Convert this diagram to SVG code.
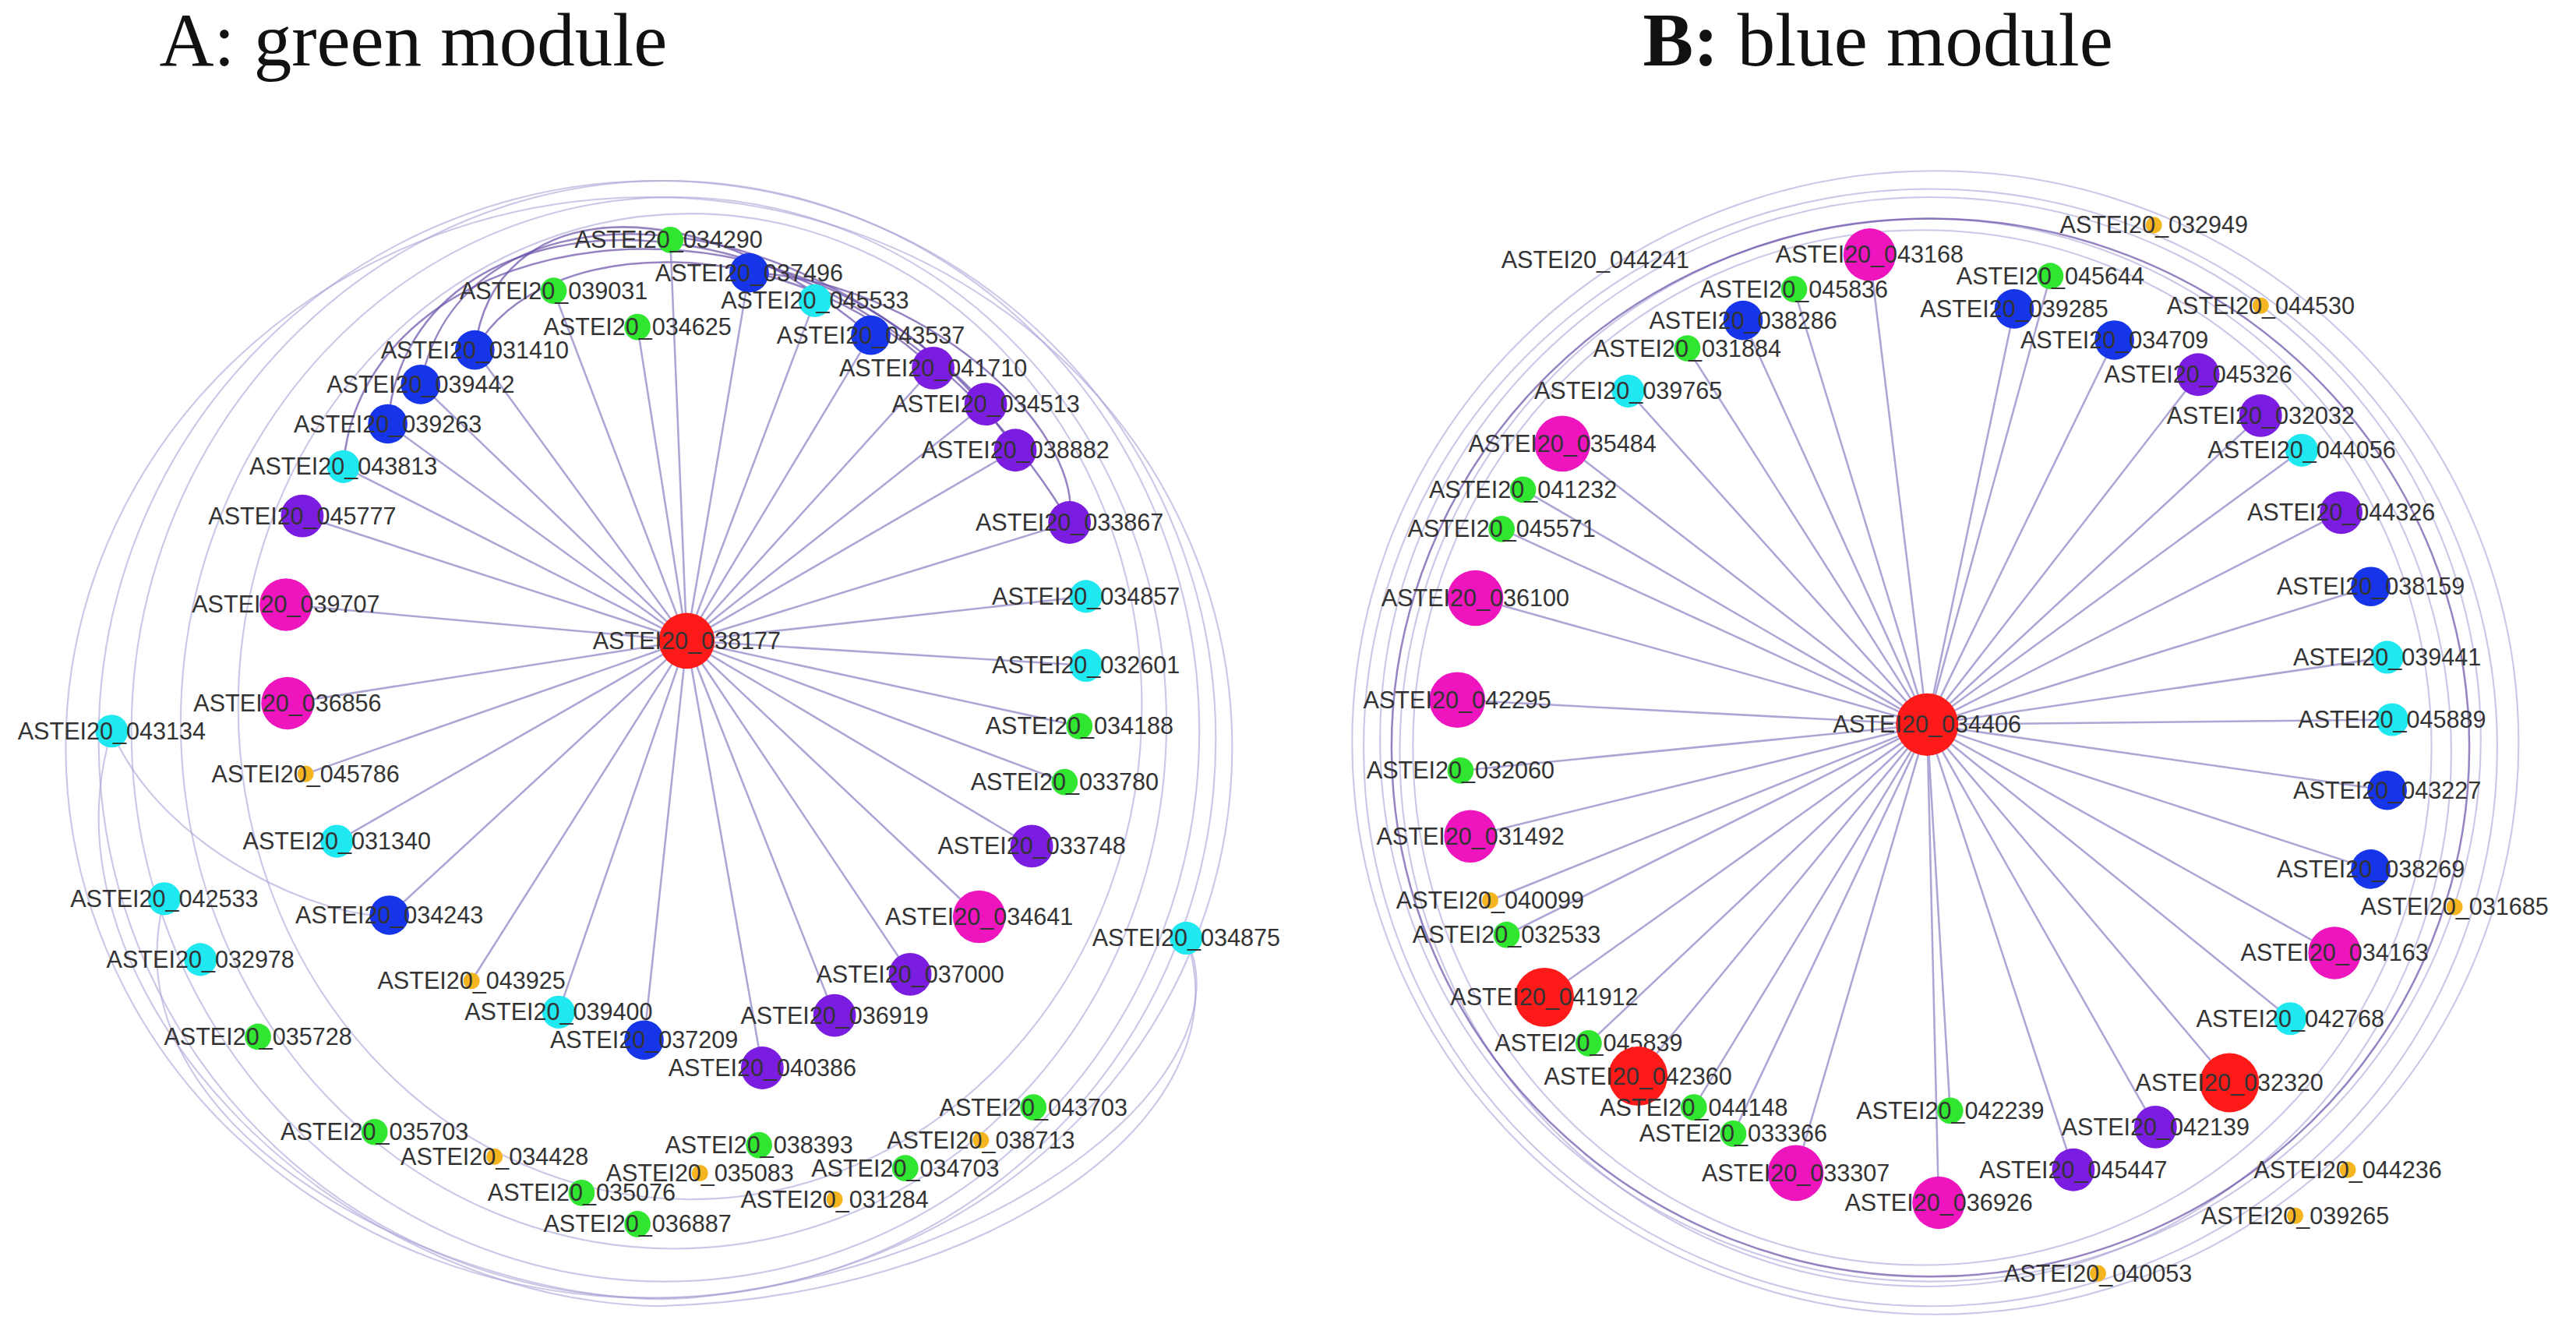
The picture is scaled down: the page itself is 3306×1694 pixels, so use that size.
<svg xmlns="http://www.w3.org/2000/svg" width="3306" height="1694" viewBox="0 0 3306 1694">
<style>
.t{font-family:"Liberation Sans",Arial,sans-serif;font-size:14.5px;fill:#333;text-anchor:middle}
.h{font-family:"Liberation Serif","DejaVu Serif",serif;font-size:46px;fill:#111}
.sp{stroke:#8a80c4;stroke-width:1.2;opacity:.7}
.rg{fill:none;stroke:#a9a2d6;stroke-width:1;opacity:.6}
.dk{fill:none;stroke:#6a50a8;stroke-width:1.2;opacity:.7}
.r{fill:#ff1a1a}.m{fill:#ee14be}.p{fill:#7a1de0}.b{fill:#1634e8}.c{fill:#1fe8f0}.g{fill:#30e630}.o{fill:#f5b520}
</style>
<rect width="3306" height="1694" fill="#fff"/>
<g transform="scale(2.1085)">
<text class="h" x="97" y="40">A: green module</text>
<text class="h" x="1000" y="40"><tspan font-weight="bold">B:</tspan> blue module</text>
<g id="connectors">
<ellipse class="rg" cx="400" cy="450" rx="340" ry="340"/>
<ellipse class="rg" cx="405" cy="445" rx="325" ry="335"/>
<ellipse class="rg" cx="410" cy="440" rx="300" ry="320"/>
<ellipse class="rg" cx="395" cy="455" rx="355" ry="335"/>
<ellipse class="rg" cx="420" cy="430" rx="275" ry="300"/>
<path class="rg" d="M68 445 C20 600 200 790 400 795 C600 790 760 680 722 571"/>
<path class="rg" d="M100 547 C60 700 300 800 420 790 C620 770 760 650 722 571"/>
<path class="rg" d="M68 445 C100 520 200 560 237 557"/>
<path class="dk" d="M289 213 C300 120 420 110 530 204"/>
<path class="dk" d="M256 234 C280 110 470 110 600 246"/>
<path class="dk" d="M236 258 C250 100 520 100 651 318"/>
<path class="dk" d="M289 213 C330 140 480 140 568 224"/>
<path class="dk" d="M456 166 C560 170 660 260 651 318"/>
<path class="dk" d="M209 284 C220 130 500 90 618 274"/>
<ellipse class="rg" cx="1175" cy="455" rx="345" ry="340"/>
<ellipse class="rg" cx="1175" cy="450" rx="335" ry="330"/>
<ellipse class="rg" cx="1172" cy="458" rx="320" ry="325"/>
<ellipse class="rg" cx="1178" cy="452" rx="355" ry="348"/>
<ellipse class="rg" cx="1170" cy="455" rx="310" ry="315"/>
<ellipse class="dk" cx="1175" cy="455" rx="328" ry="322" opacity=".4"/>
<g class="sp">
<line x1="418" y1="390" x2="408" y2="146"/><line x1="418" y1="390" x2="456" y2="166"/><line x1="418" y1="390" x2="337" y2="177"/><line x1="418" y1="390" x2="496" y2="183"/><line x1="418" y1="390" x2="388" y2="199"/><line x1="418" y1="390" x2="530" y2="204"/><line x1="418" y1="390" x2="289" y2="213"/><line x1="418" y1="390" x2="568" y2="224"/><line x1="418" y1="390" x2="256" y2="234"/><line x1="418" y1="390" x2="600" y2="246"/><line x1="418" y1="390" x2="236" y2="258"/><line x1="418" y1="390" x2="618" y2="274"/><line x1="418" y1="390" x2="209" y2="284"/><line x1="418" y1="390" x2="651" y2="318"/><line x1="418" y1="390" x2="184" y2="314"/><line x1="418" y1="390" x2="174" y2="368"/><line x1="418" y1="390" x2="661" y2="363"/><line x1="418" y1="390" x2="661" y2="405"/><line x1="418" y1="390" x2="175" y2="428"/><line x1="418" y1="390" x2="657" y2="442"/><line x1="418" y1="390" x2="186" y2="471"/><line x1="418" y1="390" x2="648" y2="476"/><line x1="418" y1="390" x2="205" y2="512"/><line x1="418" y1="390" x2="628" y2="515"/><line x1="418" y1="390" x2="237" y2="557"/><line x1="418" y1="390" x2="596" y2="558"/><line x1="418" y1="390" x2="554" y2="593"/><line x1="418" y1="390" x2="287" y2="597"/><line x1="418" y1="390" x2="340" y2="616"/><line x1="418" y1="390" x2="508" y2="618"/><line x1="418" y1="390" x2="392" y2="633"/><line x1="418" y1="390" x2="464" y2="650"/>
<line x1="1173" y1="441" x2="1138" y2="155"/><line x1="1173" y1="441" x2="1248" y2="168"/><line x1="1173" y1="441" x2="1092" y2="176"/><line x1="1173" y1="441" x2="1226" y2="188"/><line x1="1173" y1="441" x2="1061" y2="195"/><line x1="1173" y1="441" x2="1287" y2="207"/><line x1="1173" y1="441" x2="1027" y2="212"/><line x1="1173" y1="441" x2="1338" y2="228"/><line x1="1173" y1="441" x2="991" y2="238"/><line x1="1173" y1="441" x2="1376" y2="253"/><line x1="1173" y1="441" x2="951" y2="270"/><line x1="1173" y1="441" x2="1401" y2="274"/><line x1="1173" y1="441" x2="927" y2="298"/><line x1="1173" y1="441" x2="1425" y2="312"/><line x1="1173" y1="441" x2="914" y2="322"/><line x1="1173" y1="441" x2="898" y2="364"/><line x1="1173" y1="441" x2="1443" y2="357"/><line x1="1173" y1="441" x2="1453" y2="400"/><line x1="1173" y1="441" x2="887" y2="426"/><line x1="1173" y1="441" x2="1456" y2="438"/><line x1="1173" y1="441" x2="889" y2="469"/><line x1="1173" y1="441" x2="1453" y2="481"/><line x1="1173" y1="441" x2="895" y2="509"/><line x1="1173" y1="441" x2="1443" y2="529"/><line x1="1173" y1="441" x2="907" y2="548"/><line x1="1173" y1="441" x2="917" y2="569"/><line x1="1173" y1="441" x2="1421" y2="580"/><line x1="1173" y1="441" x2="940" y2="607"/><line x1="1173" y1="441" x2="1394" y2="620"/><line x1="1173" y1="441" x2="967" y2="635"/><line x1="1173" y1="441" x2="997" y2="655"/><line x1="1173" y1="441" x2="1357" y2="659"/><line x1="1173" y1="441" x2="1031" y2="674"/><line x1="1173" y1="441" x2="1187" y2="676"/><line x1="1173" y1="441" x2="1055" y2="690"/><line x1="1173" y1="441" x2="1312" y2="686"/><line x1="1173" y1="441" x2="1093" y2="714"/><line x1="1173" y1="441" x2="1262" y2="712"/><line x1="1173" y1="441" x2="1180" y2="732"/>
</g>
</g>
<g id="n038177"><circle class="r" cx="418" cy="390" r="17"/><text class="t" x="418" y="395">ASTEI20_038177</text></g>
<g id="n034290"><circle class="g" cx="408" cy="146" r="8"/><text class="t" x="407" y="151">ASTEI20_034290</text></g>
<g id="n037496"><circle class="b" cx="456" cy="166" r="12"/><text class="t" x="456" y="171">ASTEI20_037496</text></g>
<g id="n039031"><circle class="g" cx="337" cy="177" r="8"/><text class="t" x="337" y="182">ASTEI20_039031</text></g>
<g id="n045533"><circle class="c" cx="496" cy="183" r="10"/><text class="t" x="496" y="188">ASTEI20_045533</text></g>
<g id="n034625"><circle class="g" cx="388" cy="199" r="8"/><text class="t" x="388" y="204">ASTEI20_034625</text></g>
<g id="n043537"><circle class="b" cx="530" cy="204" r="12"/><text class="t" x="530" y="209">ASTEI20_043537</text></g>
<g id="n031410"><circle class="b" cx="289" cy="213" r="12"/><text class="t" x="289" y="218">ASTEI20_031410</text></g>
<g id="n041710"><circle class="p" cx="568" cy="224" r="13"/><text class="t" x="568" y="229">ASTEI20_041710</text></g>
<g id="n039442"><circle class="b" cx="256" cy="234" r="12"/><text class="t" x="256" y="239">ASTEI20_039442</text></g>
<g id="n034513"><circle class="p" cx="600" cy="246" r="13"/><text class="t" x="600" y="251">ASTEI20_034513</text></g>
<g id="n039263"><circle class="b" cx="236" cy="258" r="12"/><text class="t" x="236" y="263">ASTEI20_039263</text></g>
<g id="n038882"><circle class="p" cx="618" cy="274" r="13"/><text class="t" x="618" y="279">ASTEI20_038882</text></g>
<g id="n043813"><circle class="c" cx="209" cy="284" r="10"/><text class="t" x="209" y="289">ASTEI20_043813</text></g>
<g id="n033867"><circle class="p" cx="651" cy="318" r="13"/><text class="t" x="651" y="323">ASTEI20_033867</text></g>
<g id="n045777"><circle class="p" cx="184" cy="314" r="13"/><text class="t" x="184" y="319">ASTEI20_045777</text></g>
<g id="n039707"><circle class="m" cx="174" cy="368" r="16"/><text class="t" x="174" y="373">ASTEI20_039707</text></g>
<g id="n034857"><circle class="c" cx="661" cy="363" r="10"/><text class="t" x="661" y="368">ASTEI20_034857</text></g>
<g id="n032601"><circle class="c" cx="661" cy="405" r="10"/><text class="t" x="661" y="410">ASTEI20_032601</text></g>
<g id="n036856"><circle class="m" cx="175" cy="428" r="16"/><text class="t" x="175" y="433">ASTEI20_036856</text></g>
<g id="n043134"><circle class="c" cx="68" cy="445" r="10"/><text class="t" x="68" y="450">ASTEI20_043134</text></g>
<g id="n034188"><circle class="g" cx="657" cy="442" r="8"/><text class="t" x="657" y="447">ASTEI20_034188</text></g>
<g id="n045786"><circle class="o" cx="186" cy="471" r="5"/><text class="t" x="186" y="476">ASTEI20_045786</text></g>
<g id="n033780"><circle class="g" cx="648" cy="476" r="8"/><text class="t" x="648" y="481">ASTEI20_033780</text></g>
<g id="n031340"><circle class="c" cx="205" cy="512" r="10"/><text class="t" x="205" y="517">ASTEI20_031340</text></g>
<g id="n033748"><circle class="p" cx="628" cy="515" r="13"/><text class="t" x="628" y="520">ASTEI20_033748</text></g>
<g id="n042533"><circle class="c" cx="100" cy="547" r="10"/><text class="t" x="100" y="552">ASTEI20_042533</text></g>
<g id="n034243"><circle class="b" cx="237" cy="557" r="12"/><text class="t" x="237" y="562">ASTEI20_034243</text></g>
<g id="n034641"><circle class="m" cx="596" cy="558" r="16"/><text class="t" x="596" y="563">ASTEI20_034641</text></g>
<g id="n034875"><circle class="c" cx="722" cy="571" r="10"/><text class="t" x="722" y="576">ASTEI20_034875</text></g>
<g id="n032978"><circle class="c" cx="122" cy="584" r="10"/><text class="t" x="122" y="589">ASTEI20_032978</text></g>
<g id="n037000"><circle class="p" cx="554" cy="593" r="13"/><text class="t" x="554" y="598">ASTEI20_037000</text></g>
<g id="n043925"><circle class="o" cx="287" cy="597" r="5"/><text class="t" x="287" y="602">ASTEI20_043925</text></g>
<g id="n039400"><circle class="c" cx="340" cy="616" r="10"/><text class="t" x="340" y="621">ASTEI20_039400</text></g>
<g id="n036919"><circle class="p" cx="508" cy="618" r="13"/><text class="t" x="508" y="623">ASTEI20_036919</text></g>
<g id="n035728"><circle class="g" cx="157" cy="631" r="8"/><text class="t" x="157" y="636">ASTEI20_035728</text></g>
<g id="n037209"><circle class="b" cx="392" cy="633" r="12"/><text class="t" x="392" y="638">ASTEI20_037209</text></g>
<g id="n040386"><circle class="p" cx="464" cy="650" r="13"/><text class="t" x="464" y="655">ASTEI20_040386</text></g>
<g id="n043703"><circle class="g" cx="629" cy="674" r="8"/><text class="t" x="629" y="679">ASTEI20_043703</text></g>
<g id="n035703"><circle class="g" cx="228" cy="689" r="8"/><text class="t" x="228" y="694">ASTEI20_035703</text></g>
<g id="n038393"><circle class="g" cx="462" cy="697" r="8"/><text class="t" x="462" y="702">ASTEI20_038393</text></g>
<g id="n038713"><circle class="o" cx="597" cy="694" r="5"/><text class="t" x="597" y="699">ASTEI20_038713</text></g>
<g id="n034428"><circle class="o" cx="301" cy="704" r="5"/><text class="t" x="301" y="709">ASTEI20_034428</text></g>
<g id="n035083"><circle class="o" cx="426" cy="714" r="5"/><text class="t" x="426" y="719">ASTEI20_035083</text></g>
<g id="n034703"><circle class="g" cx="551" cy="711" r="8"/><text class="t" x="551" y="716">ASTEI20_034703</text></g>
<g id="n035076"><circle class="g" cx="354" cy="726" r="8"/><text class="t" x="354" y="731">ASTEI20_035076</text></g>
<g id="n031284"><circle class="o" cx="508" cy="730" r="5"/><text class="t" x="508" y="735">ASTEI20_031284</text></g>
<g id="n036887"><circle class="g" cx="388" cy="745" r="8"/><text class="t" x="388" y="750">ASTEI20_036887</text></g>

<g id="n034406"><circle class="r" cx="1173" cy="441" r="19"/><text class="t" x="1173" y="446">ASTEI20_034406</text></g>
<g id="n044241"><text class="t" x="971" y="163">ASTEI20_044241</text></g>
<g id="n043168"><circle class="m" cx="1138" cy="155" r="16"/><text class="t" x="1138" y="160">ASTEI20_043168</text></g>
<g id="n032949"><circle class="o" cx="1311" cy="137" r="5"/><text class="t" x="1311" y="142">ASTEI20_032949</text></g>
<g id="n045644"><circle class="g" cx="1248" cy="168" r="8"/><text class="t" x="1248" y="173">ASTEI20_045644</text></g>
<g id="n045836"><circle class="g" cx="1092" cy="176" r="8"/><text class="t" x="1092" y="181">ASTEI20_045836</text></g>
<g id="n044530"><circle class="o" cx="1376" cy="186" r="5"/><text class="t" x="1376" y="191">ASTEI20_044530</text></g>
<g id="n039285"><circle class="b" cx="1226" cy="188" r="12"/><text class="t" x="1226" y="193">ASTEI20_039285</text></g>
<g id="n038286"><circle class="b" cx="1061" cy="195" r="12"/><text class="t" x="1061" y="200">ASTEI20_038286</text></g>
<g id="n034709"><circle class="b" cx="1287" cy="207" r="12"/><text class="t" x="1287" y="212">ASTEI20_034709</text></g>
<g id="n031884"><circle class="g" cx="1027" cy="212" r="8"/><text class="t" x="1027" y="217">ASTEI20_031884</text></g>
<g id="n045326"><circle class="p" cx="1338" cy="228" r="13"/><text class="t" x="1338" y="233">ASTEI20_045326</text></g>
<g id="n039765"><circle class="c" cx="991" cy="238" r="10"/><text class="t" x="991" y="243">ASTEI20_039765</text></g>
<g id="n032032"><circle class="p" cx="1376" cy="253" r="13"/><text class="t" x="1376" y="258">ASTEI20_032032</text></g>
<g id="n035484"><circle class="m" cx="951" cy="270" r="17"/><text class="t" x="951" y="275">ASTEI20_035484</text></g>
<g id="n044056"><circle class="c" cx="1401" cy="274" r="10"/><text class="t" x="1401" y="279">ASTEI20_044056</text></g>
<g id="n041232"><circle class="g" cx="927" cy="298" r="8"/><text class="t" x="927" y="303">ASTEI20_041232</text></g>
<g id="n044326"><circle class="p" cx="1425" cy="312" r="13"/><text class="t" x="1425" y="317">ASTEI20_044326</text></g>
<g id="n045571"><circle class="g" cx="914" cy="322" r="8"/><text class="t" x="914" y="327">ASTEI20_045571</text></g>
<g id="n036100"><circle class="m" cx="898" cy="364" r="17"/><text class="t" x="898" y="369">ASTEI20_036100</text></g>
<g id="n038159"><circle class="b" cx="1443" cy="357" r="12"/><text class="t" x="1443" y="362">ASTEI20_038159</text></g>
<g id="n039441"><circle class="c" cx="1453" cy="400" r="10"/><text class="t" x="1453" y="405">ASTEI20_039441</text></g>
<g id="n042295"><circle class="m" cx="887" cy="426" r="17"/><text class="t" x="887" y="431">ASTEI20_042295</text></g>
<g id="n045889"><circle class="c" cx="1456" cy="438" r="10"/><text class="t" x="1456" y="443">ASTEI20_045889</text></g>
<g id="n032060"><circle class="g" cx="889" cy="469" r="8"/><text class="t" x="889" y="474">ASTEI20_032060</text></g>
<g id="n043227"><circle class="b" cx="1453" cy="481" r="12"/><text class="t" x="1453" y="486">ASTEI20_043227</text></g>
<g id="n031492"><circle class="m" cx="895" cy="509" r="16"/><text class="t" x="895" y="514">ASTEI20_031492</text></g>
<g id="n038269"><circle class="b" cx="1443" cy="529" r="12"/><text class="t" x="1443" y="534">ASTEI20_038269</text></g>
<g id="n040099"><circle class="o" cx="907" cy="548" r="5"/><text class="t" x="907" y="553">ASTEI20_040099</text></g>
<g id="n031685"><circle class="o" cx="1494" cy="552" r="5"/><text class="t" x="1494" y="557">ASTEI20_031685</text></g>
<g id="n032533"><circle class="g" cx="917" cy="569" r="8"/><text class="t" x="917" y="574">ASTEI20_032533</text></g>
<g id="n034163"><circle class="m" cx="1421" cy="580" r="16"/><text class="t" x="1421" y="585">ASTEI20_034163</text></g>
<g id="n041912"><circle class="r" cx="940" cy="607" r="18"/><text class="t" x="940" y="612">ASTEI20_041912</text></g>
<g id="n042768"><circle class="c" cx="1394" cy="620" r="10"/><text class="t" x="1394" y="625">ASTEI20_042768</text></g>
<g id="n045839"><circle class="g" cx="967" cy="635" r="8"/><text class="t" x="967" y="640">ASTEI20_045839</text></g>
<g id="n042360"><circle class="r" cx="997" cy="655" r="18"/><text class="t" x="997" y="660">ASTEI20_042360</text></g>
<g id="n032320"><circle class="r" cx="1357" cy="659" r="18"/><text class="t" x="1357" y="664">ASTEI20_032320</text></g>
<g id="n044148"><circle class="g" cx="1031" cy="674" r="8"/><text class="t" x="1031" y="679">ASTEI20_044148</text></g>
<g id="n042239"><circle class="g" cx="1187" cy="676" r="8"/><text class="t" x="1187" y="681">ASTEI20_042239</text></g>
<g id="n033366"><circle class="g" cx="1055" cy="690" r="8"/><text class="t" x="1055" y="695">ASTEI20_033366</text></g>
<g id="n042139"><circle class="p" cx="1312" cy="686" r="13"/><text class="t" x="1312" y="691">ASTEI20_042139</text></g>
<g id="n033307"><circle class="m" cx="1093" cy="714" r="17"/><text class="t" x="1093" y="719">ASTEI20_033307</text></g>
<g id="n045447"><circle class="p" cx="1262" cy="712" r="13"/><text class="t" x="1262" y="717">ASTEI20_045447</text></g>
<g id="n044236"><circle class="o" cx="1429" cy="712" r="5"/><text class="t" x="1429" y="717">ASTEI20_044236</text></g>
<g id="n036926"><circle class="m" cx="1180" cy="732" r="16"/><text class="t" x="1180" y="737">ASTEI20_036926</text></g>
<g id="n039265"><circle class="o" cx="1397" cy="740" r="5"/><text class="t" x="1397" y="745">ASTEI20_039265</text></g>
<g id="n040053"><circle class="o" cx="1277" cy="775" r="5"/><text class="t" x="1277" y="780">ASTEI20_040053</text></g>
</g>
</svg>
